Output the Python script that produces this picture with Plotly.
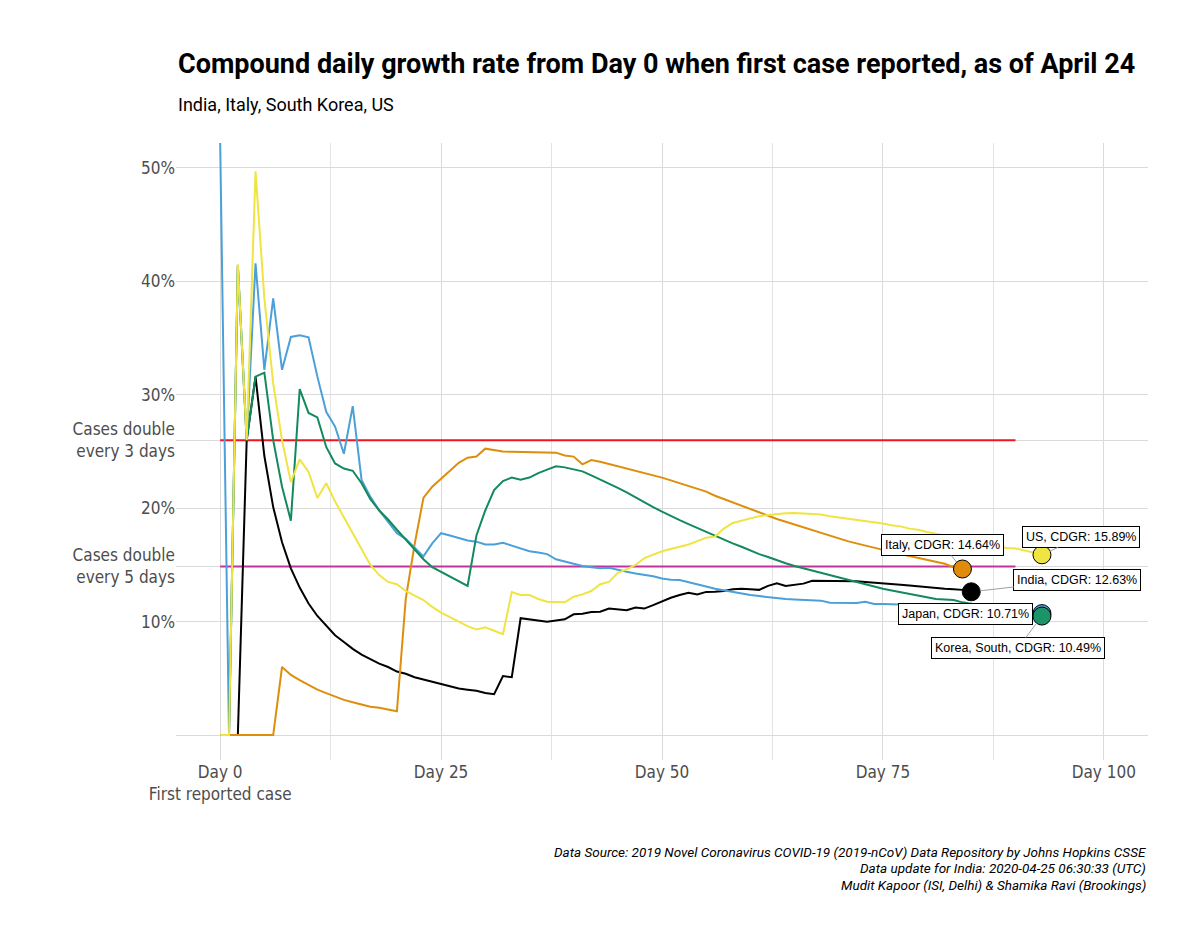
import plotly.graph_objects as go

# ---------------- data (CDGR as fraction, index = day since first case) ----------------
india = [0, 0, 0, 0.26, 0.316, 0.246, 0.201, 0.170, 0.147, 0.130,
         0.116, 0.105, 0.096, 0.088, 0.082, 0.076, 0.071, 0.067, 0.063, 0.060,
         0.056, 0.054, 0.051, 0.049, 0.047, 0.045, 0.043, 0.041, 0.040, 0.039,
         0.037, 0.036, 0.052, 0.051, 0.103, 0.102, 0.101, 0.100, 0.101, 0.102,
         0.1065, 0.107, 0.1085, 0.1088, 0.1115, 0.111, 0.110, 0.1125, 0.1115, 0.1145,
         0.118, 0.121, 0.1235, 0.1255, 0.124, 0.1262, 0.1264, 0.127, 0.1285, 0.129,
         0.1285, 0.128, 0.1315, 0.1337, 0.1315, 0.1325, 0.1335, 0.136, 0.136, 0.1358,
         0.1358, 0.1358, 0.1355, 0.135, 0.1345, 0.134, 0.133, 0.1325, 0.1318, 0.131,
         0.1305, 0.1298, 0.129, 0.1285, 0.128, 0.1263]

italy = [0, 0, 0, 0, 0, 0, 0, 0.060, 0.053, 0.0485,
         0.044, 0.040, 0.037, 0.034, 0.031, 0.029, 0.027, 0.025, 0.024, 0.0225,
         0.021, 0.12, 0.168, 0.209, 0.219, 0.226, 0.233, 0.240, 0.2445, 0.2455,
         0.2525, 0.251, 0.250, 0.2497, 0.2495, 0.249, 0.249, 0.249, 0.249, 0.2465,
         0.2455, 0.2387, 0.2425, 0.241, 0.239, 0.237, 0.235, 0.2335, 0.231, 0.229,
         0.227, 0.2245, 0.222, 0.2195, 0.217, 0.2146, 0.211, 0.208, 0.205, 0.202,
         0.199, 0.196, 0.193, 0.1905, 0.188, 0.1855, 0.183, 0.1805, 0.178, 0.176,
         0.1735, 0.171, 0.169, 0.167, 0.165, 0.1635, 0.1615, 0.1595, 0.1578, 0.156,
         0.1543, 0.1527, 0.151, 0.148, 0.1464]

# day 0 for Japan runs off the top of the panel
japan = [0.522, 0, 0.414, 0.26, 0.416, 0.322, 0.385, 0.322, 0.351, 0.3525,
         0.3506, 0.316, 0.285, 0.272, 0.248, 0.29, 0.225, 0.21, 0.198, 0.188,
         0.178, 0.173, 0.165, 0.1575, 0.169, 0.178, 0.176, 0.174, 0.1715, 0.1705,
         0.168, 0.168, 0.1696, 0.167, 0.1646, 0.162, 0.161, 0.1595, 0.155, 0.153,
         0.1505, 0.149, 0.148, 0.147, 0.1475, 0.1455, 0.144, 0.1425, 0.1415, 0.140,
         0.138, 0.137, 0.1367, 0.135, 0.133, 0.131, 0.129, 0.1275, 0.126, 0.1245,
         0.1235, 0.1225, 0.1215, 0.121, 0.120, 0.1196, 0.1193, 0.119, 0.1185, 0.1167,
         0.1167, 0.1167, 0.1165, 0.1175, 0.1155, 0.1155, 0.1155, 0.115, 0.1145, 0.114,
         0.1135, 0.113, 0.1125, 0.112, 0.1115, 0.111, 0.1105, 0.110, 0.1095, 0.109,
         0.1085, 0.108, 0.1075, 0.1071]

korea = [0, 0, 0.414, 0.26, 0.316, 0.3195, 0.26, 0.219, 0.189, 0.305,
         0.284, 0.28, 0.254, 0.2395, 0.235, 0.233, 0.222, 0.208, 0.198, 0.19,
         0.181, 0.172, 0.164, 0.155, 0.148, 0.144, 0.1396, 0.1355, 0.1315, 0.176,
         0.198, 0.216, 0.224, 0.227, 0.2252, 0.227, 0.231, 0.234, 0.237, 0.236,
         0.2345, 0.2325, 0.229, 0.2255, 0.222, 0.218, 0.214, 0.2095, 0.2055, 0.201,
         0.197, 0.193, 0.1895, 0.186, 0.1825, 0.179, 0.1755, 0.172, 0.169, 0.166,
         0.1625, 0.1595, 0.157, 0.154, 0.1515, 0.149, 0.147, 0.1445, 0.1425, 0.1405,
         0.1385, 0.1365, 0.1345, 0.1325, 0.1308, 0.129, 0.1275, 0.126, 0.1245, 0.123,
         0.1215, 0.12, 0.1195, 0.119, 0.117, 0.1155, 0.1145, 0.1135, 0.1125, 0.1115,
         0.1095, 0.107, 0.106, 0.1049]

us = [0, 0, 0.415, 0.26, 0.497, 0.385, 0.31, 0.26, 0.223, 0.243,
      0.232, 0.209, 0.222, 0.206, 0.192, 0.178, 0.163, 0.150, 0.141, 0.135,
      0.133, 0.127, 0.123, 0.119, 0.113, 0.108, 0.104, 0.100, 0.096, 0.093,
      0.095, 0.092, 0.089, 0.126, 0.1235, 0.1235, 0.120, 0.1175, 0.117, 0.117,
      0.122, 0.124, 0.127, 0.133, 0.135, 0.143, 0.146, 0.150, 0.156, 0.159,
      0.162, 0.164, 0.166, 0.168, 0.171, 0.174, 0.175, 0.182, 0.187, 0.189,
      0.191, 0.193, 0.194, 0.195, 0.1955, 0.1957, 0.1955, 0.195, 0.1945, 0.193,
      0.192, 0.191, 0.190, 0.189, 0.1875, 0.1865, 0.185, 0.184, 0.182, 0.181,
      0.179, 0.1775, 0.176, 0.1745, 0.173, 0.171, 0.170, 0.168, 0.1665, 0.165,
      0.1645, 0.163, 0.161, 0.1589]

names = ["India", "Italy", "Japan", "Korea, South", "US"]
series = [india, italy, japan, korea, us]

ref_days = [0, 90]
double_3 = 0.2599   # cases double every 3 days
double_5 = 0.1487   # cases double every 5 days

x_ticks = [0, 25, 50, 75, 100]
x_labels = ["Day 0<br>First reported case", "Day 25", "Day 50", "Day 75", "Day 100"]
y_ticks = [0, 0.10, double_5, 0.20, double_3, 0.30, 0.40, 0.50]
y_labels = ["", "10%", "Cases double<br>every 5 days", "20%", "Cases double<br>every 3 days",
            "30%", "40%", "50%"]

# ---------------- styling ----------------
line_colors = {"India": "#000000", "Italy": "#DE8E0C", "Japan": "#4BA0D9",
               "Korea, South": "#138A5C", "US": "#F0E442"}
dot_colors = {"India": "#000000", "Italy": "#E08C0A", "Japan": "#4BA0D9",
              "Korea, South": "#1A9468", "US": "#F0E442"}
# label offsets (pixels) relative to the end dot
label_offsets = {"India": (106, -12), "Italy": (-20, -24), "Japan": (-76, 0),
                 "Korea, South": (-24, 32), "US": (39, -18)}

HEAD = "Roboto, DejaVu Sans, sans-serif"
TICK = "DejaVu Sans Condensed, DejaVu Sans, sans-serif"
REG = "Liberation Sans, Arial, sans-serif"

fig = go.Figure()

fig.add_trace(go.Scatter(x=ref_days, y=[double_3, double_3], mode="lines",
                         line=dict(color="#F0141E", width=2), hoverinfo="skip", showlegend=False))
fig.add_trace(go.Scatter(x=ref_days, y=[double_5, double_5], mode="lines",
                         line=dict(color="#C0359C", width=2), hoverinfo="skip", showlegend=False))

for name, vals in zip(names, series):
    fig.add_trace(go.Scatter(x=list(range(len(vals))), y=vals, mode="lines",
                             line=dict(color=line_colors[name], width=2),
                             name=name, showlegend=False))

for name, vals in zip(names, series):
    fig.add_trace(go.Scatter(x=[len(vals) - 1], y=[vals[-1]], mode="markers",
                             marker=dict(size=18, color=dot_colors[name],
                                         line=dict(color="#000000", width=1)),
                             cliponaxis=False, showlegend=False, hoverinfo="skip"))

annotations = []
for name, vals in zip(names, series):
    ax, ay = label_offsets[name]
    annotations.append(dict(
        x=len(vals) - 1, y=vals[-1], xref="x", yref="y",
        text=f"{name}, CDGR: {vals[-1]*100:.2f}%",
        showarrow=True, arrowhead=0, arrowwidth=1, arrowcolor="#A0A0A0",
        ax=ax, ay=ay, standoff=9,
        bgcolor="#FFFFFF", bordercolor="#000000", borderwidth=1, borderpad=3,
        font=dict(family=REG, size=12.5, color="#000000")))

annotations.append(dict(
    x=0, y=1.128, xref="paper", yref="paper", xanchor="left", yanchor="middle",
    text="<b>Compound daily growth rate from Day 0 when first case reported, as of April 24</b>",
    showarrow=False, font=dict(family=HEAD, size=27, color="#000000")))
annotations.append(dict(
    x=0, y=1.0616, xref="paper", yref="paper", xanchor="left", yanchor="middle",
    text="India, Italy, South Korea, US",
    showarrow=False, font=dict(family=HEAD, size=18, color="#000000")))

captions = ["Data Source: 2019 Novel Coronavirus COVID-19 (2019-nCoV) Data Repository by Johns Hopkins CSSE",
            "Data update for India: 2020-04-25 06:30:33 (UTC)",
            "Mudit Kapoor (ISI, Delhi) & Shamika Ravi (Brookings)"]
for i, c in enumerate(captions):
    annotations.append(dict(
        x=1.0, y=(760 - (852 + 16.5 * i)) / 617, xref="paper", yref="paper",
        xanchor="right", yanchor="middle", text=f"<i>{c}</i>", showarrow=False,
        font=dict(family=HEAD, size=13.5, color="#000000")))

fig.update_layout(
    width=1200, height=945,
    margin=dict(l=176, r=52, t=143, b=185),
    paper_bgcolor="#FFFFFF", plot_bgcolor="#FFFFFF",
    annotations=annotations,
    xaxis=dict(range=[-5, 105], tickvals=x_ticks, ticktext=x_labels,
               showgrid=True, gridcolor="#DADADA", gridwidth=1,
               minor=dict(tickvals=[12.5, 37.5, 62.5, 87.5], showgrid=True,
                          gridcolor="#E4E4E4", gridwidth=1, ticks=""),
               zeroline=False, showline=False, ticks="", ticklen=0,
               tickfont=dict(family=TICK, size=17, color="#4D4D4D")),
    yaxis=dict(range=[-0.022, 0.522], tickvals=y_ticks, ticktext=y_labels,
               showgrid=True, gridcolor="#DADADA", gridwidth=1,
               zeroline=False, showline=False, ticks="",
               tickfont=dict(family=TICK, size=17, color="#4D4D4D")),
)

fig.write_html("out.html", config={"displayModeBar": False},
               post_script="document.body.style.margin='0';document.body.style.overflow='hidden';")
